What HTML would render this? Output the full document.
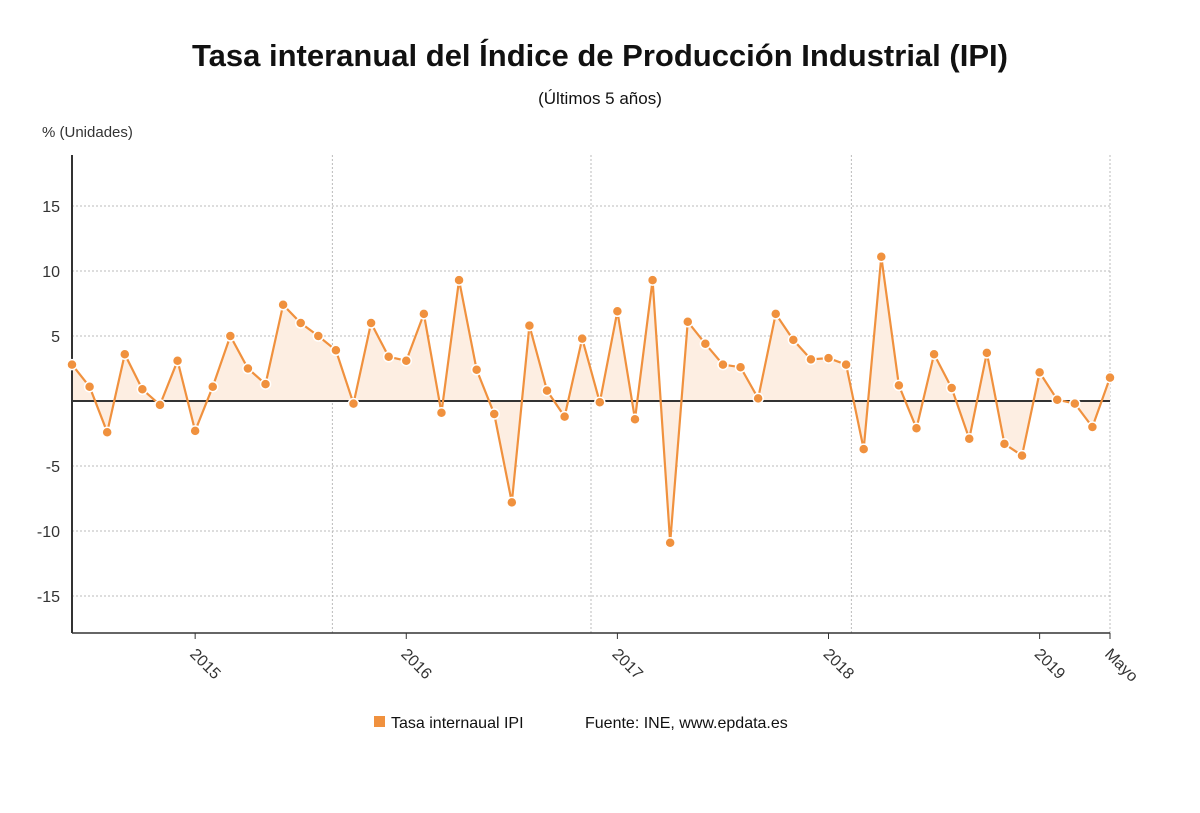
<!DOCTYPE html>
<html><head><meta charset="utf-8"><style>
body{margin:0;background:#fff;font-family:"Liberation Sans",sans-serif}
</style></head><body>
<svg width="1200" height="808" xmlns="http://www.w3.org/2000/svg" font-family="Liberation Sans, sans-serif">
<text x="600" y="66" text-anchor="middle" font-size="31" font-weight="bold" fill="#111">Tasa interanual del Índice de Producción Industrial (IPI)</text>
<text x="600" y="104" text-anchor="middle" font-size="17" fill="#111">(Últimos 5 años)</text>
<text x="42" y="137" font-size="15" fill="#333">% (Unidades)</text>
<g id="plot"></g>
<g>
<rect x="374" y="716" width="11" height="11" fill="#f0913e"/>
<text x="391" y="728" font-size="16" fill="#111">Tasa internaual IPI</text>
<text x="585" y="728" font-size="16" fill="#111">Fuente: INE, www.epdata.es</text>
</g>
</svg>
<script>
const values=[2.8,1.1,-2.4,3.6,0.9,-0.3,3.1,-2.3,1.1,5.0,2.5,1.3,7.4,6.0,5.0,3.9,-0.2,6.0,3.4,3.1,6.7,-0.9,9.3,2.4,-1.0,-7.8,5.8,0.8,-1.2,4.8,-0.1,6.9,-1.4,9.3,-10.9,6.1,4.4,2.8,2.6,0.2,6.7,4.7,3.2,3.3,2.8,-3.7,11.1,1.2,-2.1,3.6,1.0,-2.9,3.7,-3.3,-4.2,2.2,0.1,-0.2,-2.0,1.8];
const yTicks=[15,10,5,-5,-10,-15];
const xLabels=["2015","2016","2017","2018","2019","Mayo"];
const xLabelIdx=[7,19,31,43,55,59];
const NS="http://www.w3.org/2000/svg";
const g=document.getElementById('plot');
const X0=72,X1=1110,TOP=155,BOT=633,Y0=401,K=13;
const x=i=>X0+(X1-X0)*i/(values.length-1);
const y=v=>Y0-v*K;
function el(t,a){const e=document.createElementNS(NS,t);for(const k in a)e.setAttribute(k,a[k]);g.appendChild(e);return e;}
yTicks.forEach(t=>{
 const l=el('line',{x1:X0,x2:X1,y1:y(t),y2:y(t),stroke:'#bbb','stroke-dasharray':'2,2'});
 
 
 const tx=el('text',{x:60,y:y(t)+6,'text-anchor':'end','font-size':16,fill:'#333'});tx.textContent=t;
 
 
});
[14.8,29.5,44.3,59].forEach(i=>{
 const l=el('line',{x1:x(i),x2:x(i),y1:TOP,y2:BOT,stroke:'#bbb','stroke-dasharray':'2,2'});
 
 
});
let d='M'+x(0)+','+Y0;values.forEach((v,i)=>d+='L'+x(i)+','+y(v));d+='L'+x(values.length-1)+','+Y0+'Z';
const a=el('path',{d:d,fill:'#fdeee2'});


const z=el('line',{x1:X0,x2:X1,y1:Y0,y2:Y0,stroke:'#333','stroke-width':2});


const ax=el('line',{x1:X0,x2:X0,y1:TOP,y2:BOT,stroke:'#333','stroke-width':2});


const bx=el('line',{x1:X0,x2:X1,y1:BOT,y2:BOT,stroke:'#333','stroke-width':1.5});


const ln=el('polyline',{points:values.map((v,i)=>x(i)+','+y(v)).join(' '),fill:'none',stroke:'#f0913e','stroke-width':2.2});


values.forEach((v,i)=>{
 const c=el('circle',{cx:x(i),cy:y(v),r:5,fill:'#f0913e',stroke:'#fff','stroke-width':1.5});
 
 
});
xLabels.forEach((s,j)=>{
 const px=x(xLabelIdx[j]);
 const tk=el('line',{x1:px,x2:px,y1:BOT,y2:BOT+6,stroke:'#333'});
 
 
 const t=el('text',{x:px-6,y:BOT+22,'font-size':16,fill:'#333',transform:`rotate(45 ${px-6} ${BOT+22})`});
 t.textContent=s;
 
 
});
</script>
</body></html>
